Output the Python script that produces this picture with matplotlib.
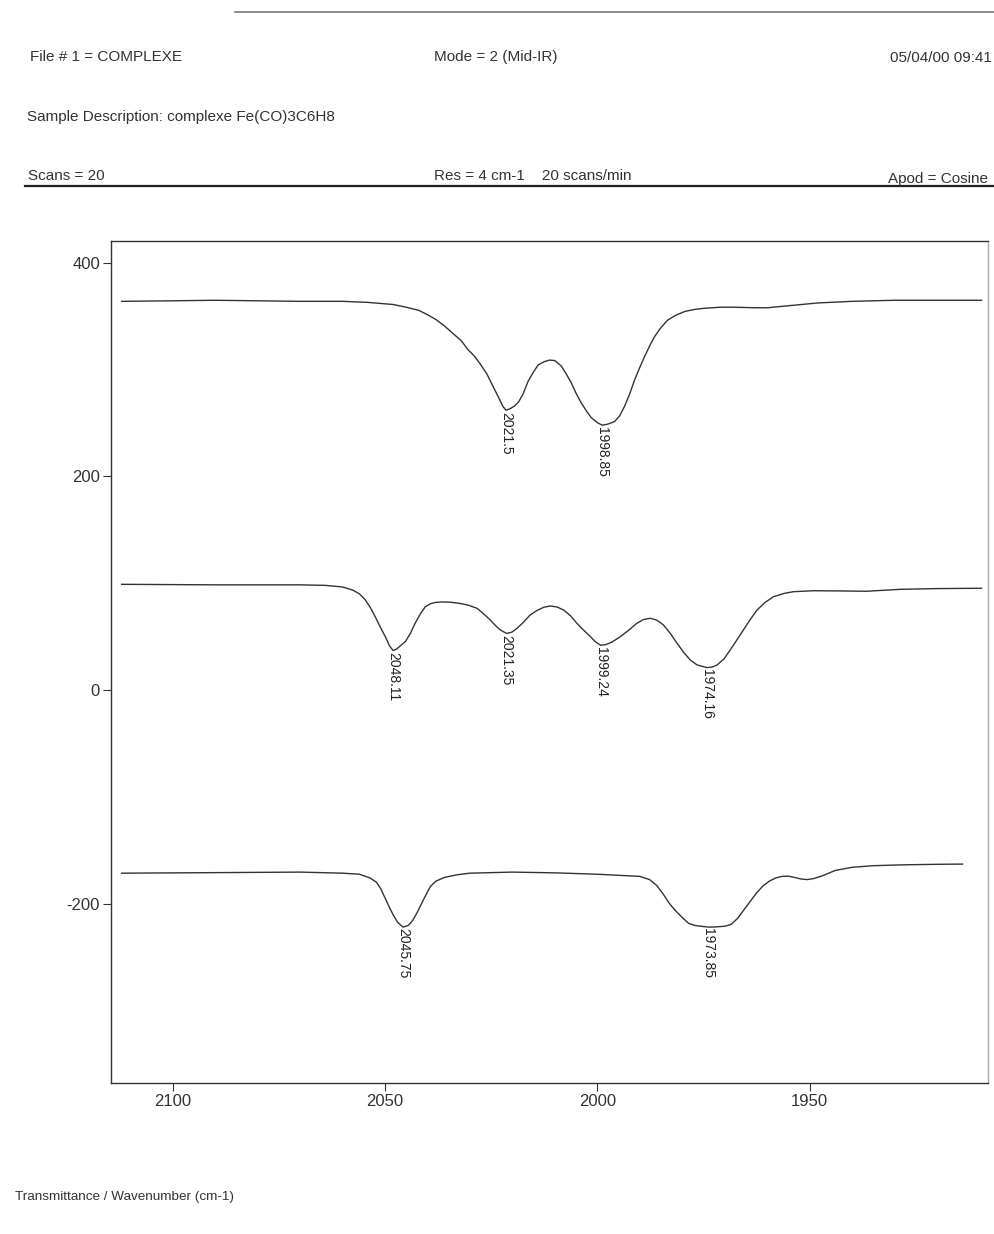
"""
IR spectrum (Mid-IR) of complexe Fe(CO)3C6H8, three traces
Values read off a scanned printout
"""

import matplotlib
matplotlib.use("Agg")
import matplotlib.pyplot as plt
from matplotlib.lines import Line2D

plt.rcParams['font.family'] = ['Liberation Sans', 'DejaVu Sans']

# -------- DATA ----------
wn_top = [2112, 2100, 2090, 2080, 2070, 2060, 2054, 2048, 2045, 2042, 2040, 2038, 2036,
          2034, 2032, 2030.5, 2029, 2027.5, 2026, 2025, 2024, 2023, 2022.2, 2021.5, 2020.5,
          2019.5, 2018.5, 2017.5, 2016.3, 2015, 2013.9, 2012.5, 2011.2, 2010, 2008.5, 2007.3,
          2006.1, 2005, 2003.8, 2002.5, 2001.4, 2000, 1998.85, 1997.5, 1995.9, 1994.7, 1993.6,
          1992.4, 1991.2, 1990, 1988.9, 1987.7, 1986.5, 1985, 1983.4, 1981.5, 1979.4, 1977,
          1974.7, 1971, 1967.7, 1963, 1959.8, 1956, 1952, 1948, 1940, 1930, 1920, 1909.5]
t_top = [364, 364.5, 365, 364.5, 364, 364, 363, 361, 358.5, 355.5, 351.5, 347, 341,
         334, 327, 319, 313, 305, 296, 288, 280, 272, 265.5, 262, 263.5,
         266, 270, 277, 289, 298, 304.5, 307.5, 309, 308.5, 303.5, 296,
         287.5, 278, 269, 261, 255, 250.5, 248, 249, 251.5, 257, 265.5,
         277, 290.5, 302, 312, 322, 331, 339.5, 346.5, 351, 354.5, 356.5,
         357.5, 358.5, 358.5, 358, 358, 359.5, 361, 362.5, 364, 365, 365, 365]

wn_mid = [2112, 2090, 2070, 2064, 2060, 2057.5, 2056, 2054.6, 2053.4, 2052.3, 2051.1, 2049.9,
          2049, 2048.11, 2047.2, 2046.2, 2045.2, 2044, 2042.9, 2041.7, 2040.5, 2039.3, 2038.2,
          2036.5, 2034.5, 2032.5, 2030.4, 2028.3, 2026.8, 2025.2, 2024, 2022.8, 2021.35,
          2020.1, 2018.9, 2017.5, 2015.8, 2014.2, 2012.6, 2011.1, 2009.5, 2007.9, 2006.3,
          2004.8, 2003.2, 2001.6, 2000.4, 1999.24, 1998, 1996.5, 1994.6, 1992.6, 1990.7,
          1989.1, 1987.5, 1986, 1984.4, 1982.8, 1981.2, 1979.6, 1978.1, 1976.5, 1974.16,
          1973, 1971.8, 1970.2, 1968.7, 1967.2, 1965.6, 1964, 1962.4, 1960.5, 1958.5, 1956,
          1953.8, 1949.1, 1943, 1936.6, 1928.7, 1920, 1909.5]
t_mid = [99, 98.5, 98.5, 98, 96.5, 93.5, 90, 84.3, 77, 68.7, 59, 49.9,
         42, 37, 38.5, 42, 45.3, 53, 62.5, 71, 78, 80.8, 82,
         82.5, 82.2, 81.2, 79.5, 76.5, 71.5, 65.6, 60.5, 56.2, 53,
         54.2, 57.8, 63, 70.3, 74.5, 77.5, 78.7, 77.8, 74.9, 69.5,
         62.5, 56, 49.9, 45, 42, 42.5, 45, 49.9, 56, 62.5,
         66, 67.2, 65.5, 60.9, 53, 43.7, 35, 28.1, 23.5, 21,
         21.5, 23.4, 29, 37.5, 46.5, 56.2, 66, 74.9, 82, 87.4, 90.5,
         92.1, 93, 92.8, 92.5, 94.3, 95, 95.3]

wn_bot = [2112, 2090, 2070, 2060, 2056, 2053.5, 2052, 2051, 2050, 2049, 2048, 2047, 2045.75,
          2044.5, 2043.5, 2042.5, 2041.5, 2040.5, 2039.3, 2038, 2036, 2033, 2030, 2020, 2010,
          2000, 1995, 1990, 1987.7, 1986, 1984.5, 1983, 1981.5, 1980, 1978.5, 1977, 1975,
          1973.85, 1972, 1970, 1968.5, 1967, 1965.5, 1964, 1962.5, 1961, 1959.5, 1958,
          1956.5, 1955, 1953.5, 1952, 1950.5, 1949, 1947, 1944, 1940, 1935, 1928, 1920, 1914]
t_bot = [-171.5, -171, -170.5, -171.5, -172.5, -176, -180, -186, -194.5, -203, -211, -217.5, -222,
         -220.5, -216, -209, -201, -193, -184, -179, -175.5, -173, -171.5, -170.5, -171.2,
         -172.5, -173.5, -174.5, -177.5, -183, -191, -200, -207, -213, -218.5, -220.5, -221.5,
         -222, -221.8, -221.2, -219.5, -214, -206, -198, -190, -183.5, -179, -176,
         -174.5, -174.3, -175.5, -177, -177.5, -176.5, -174, -169, -166, -164.5, -163.7, -163.2, -163]

# peak labels: (wavenumber, value, text)
peaks_top = [(2021.5, 262, "2021.5"), (1998.85, 248, "1998.85")]
peaks_mid = [(2048.11, 37, "2048.11"), (2021.35, 53, "2021.35"),
             (1999.24, 42, "1999.24"), (1974.16, 21, "1974.16")]
peaks_bot = [(2045.75, -222, "2045.75"), (1973.85, -222, "1973.85")]

x_ticks = [2100, 2050, 2000, 1950]
y_ticks = [400, 200, 0, -200]
y_tick_labels = ["400", "200", "0", "-200"]

# -------- FIGURE ----------
W, H = 994, 1234
fig = plt.figure(figsize=(W / 100, H / 100), dpi=100)
fig.patch.set_facecolor("white")


def px(x, y):
    return x / W, 1 - y / H


# header
hdr = dict(fontsize=11, color="#333333", va="center")
fig.text(*px(30, 57), "File # 1 = COMPLEXE", **hdr)
fig.text(*px(434, 57), "Mode = 2 (Mid-IR)", **hdr)
fig.text(*px(890, 58), "05/04/00 09:41", **hdr)
fig.text(*px(27, 117), "Sample Description: complexe Fe(CO)3C6H8", **hdr)
fig.text(*px(28, 176), "Scans = 20", **hdr)
fig.text(*px(434, 176), "Res = 4 cm-1    20 scans/min", **hdr)
fig.text(*px(888, 179), "Apod = Cosine", **hdr)
fig.text(*px(15, 1197), "Transmittance / Wavenumber (cm-1)", fontsize=9.7,
         color="#333333", va="center")

fig.add_artist(Line2D([25 / W, 1], [1 - 186 / H] * 2, color="#222222", lw=1.6))
fig.add_artist(Line2D([235 / W, 1], [1 - 12 / H] * 2, color="#777777", lw=1.2))

# -------- PLOT ----------
ax = fig.add_axes([111 / W, 1 - 1083 / H, (988 - 111) / W, (1083 - 241) / H])
ax.set_facecolor("none")

for wn, t in [(wn_top, t_top), (wn_mid, t_mid), (wn_bot, t_bot)]:
    ax.plot(wn, t, color="#333333", lw=1.0)

for peaks in [peaks_top, peaks_mid, peaks_bot]:
    for wn, t, lab in peaks:
        ax.annotate(lab, (wn, t), xytext=(0, -1), textcoords="offset points",
                    rotation=270, ha="center", va="top", fontsize=10, color="#222222")

ax.set_xlim(2114.5, 1908)
ax.set_ylim(-368, 420.5)
ax.set_xticks(x_ticks)
ax.set_yticks(y_ticks)
ax.set_yticklabels(y_tick_labels)
ax.tick_params(direction="out", length=6, width=0.8, labelsize=12,
               colors="#333333", pad=2)
for side, sp in ax.spines.items():
    sp.set_color("#333333")
    sp.set_linewidth(1.0)
ax.spines["right"].set_color("#aaaaaa")

fig.savefig("out.png", dpi=100)
